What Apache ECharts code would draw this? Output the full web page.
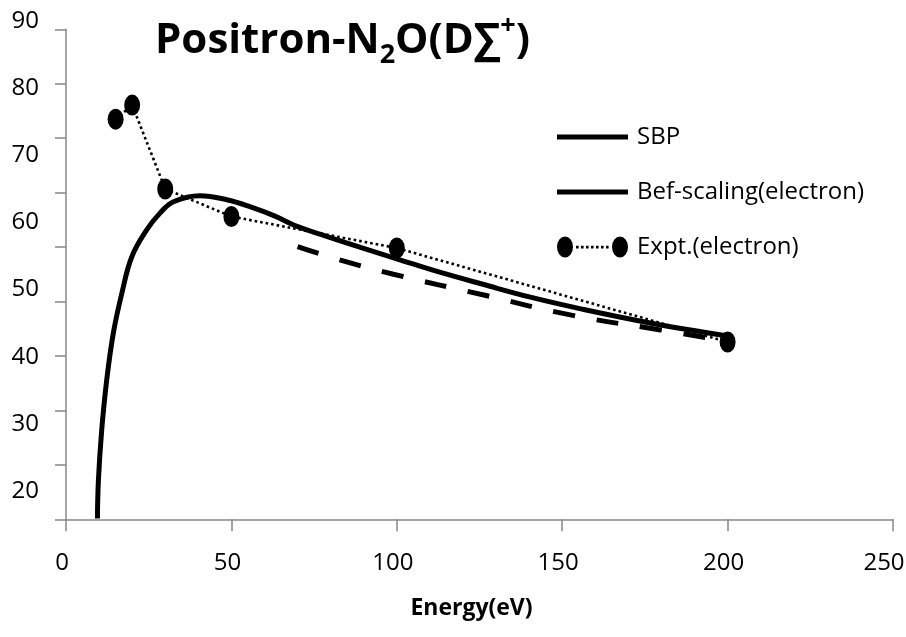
<html>
<head>
<meta charset="utf-8">
<script src="https://cdn.jsdelivr.net/npm/echarts@6/dist/echarts.min.js"></script>
<style>
  body { margin: 0; background: #fff; }
  #chart { width: 906px; height: 637px; }
</style>
</head>
<body>
<div id="chart"></div>
<script>
// values
var sbpE = [9.5, 9.8, 10.8, 12.3, 14.3, 16.9, 19.9, 24.4, 28.4, 32.5, 40.5, 48.6, 56, 63, 69, 79, 89, 100, 113, 126, 141, 156, 177, 200];
var sbpV = [15.9, 21.6, 29.1, 36.5, 43.5, 49.5, 54.9, 58.9, 61.4, 63.1, 64.0, 63.4, 62.3, 61.0, 59.6, 57.9, 56.3, 54.6, 52.6, 50.8, 48.8, 47.1, 45.0, 43.1];
var befE = [70, 83, 99, 126.3, 152.8, 179.7, 200];
var befV = [56.4, 54.4, 52.3, 49.2, 46.2, 44.0, 42.3];
var exptE = [15, 20, 30, 50, 100, 200];
var exptV = [75.4, 77.5, 65.0, 60.9, 56.2, 42.2];
var yLabels = [20, 30, 40, 50, 60, 70, 80, 90];
var xMax = 250;

function pairs(xs, ys) {
    var out = [];
    for (var i = 0; i < xs.length; i++) out.push([xs[i], ys[i]]);
    return out;
}

// legend icons: plain thick line, and two dots joined by a dotted line
var lineIcon = 'path://M0,0 h71 v5 h-71 Z';
var exptIcon = 'path://M0,10.5 A8,10.5 0 1 1 16,10.5 A8,10.5 0 1 1 0,10.5 Z ' +
    'M55,10.5 A8,10.5 0 1 1 71,10.5 A8,10.5 0 1 1 55,10.5 Z';
for (var d = 19; d < 53; d += 5) {
    exptIcon += ' M' + d + ',9.3 h2.6 v2.6 h-2.6 Z';
}

var font = '"Open Sans", sans-serif';
var axisGrey = '#888888';

var chart = echarts.init(document.getElementById('chart'));
var option = {
    animation: false,
    backgroundColor: '#fff',
    title: {
        left: 150, top: 8,
        text: '{a|Positron-N}{s|2}{a|O(D∑}{p|+}{a|)}',
        textStyle: {
            rich: {
                a: { fontFamily: font, fontWeight: 'bold', fontSize: 42, lineHeight: 56, color: '#000' },
                s: { fontFamily: font, fontWeight: 'bold', fontSize: 27, lineHeight: 30, verticalAlign: 'bottom', color: '#000' },
                p: { fontFamily: font, fontWeight: 'bold', fontSize: 27, lineHeight: 30, verticalAlign: 'top', color: '#000' }
            }
        }
    },
    legend: {
        orient: 'vertical',
        left: 552, top: 120,
        itemWidth: 71, itemHeight: 21,
        itemGap: 31,
        symbolKeepAspect: true,
        selectedMode: false,
        textStyle: { fontFamily: font, fontSize: 24, lineHeight: 24, color: '#000', padding: [0, 0, 0, 4] },
        data: [
            { name: 'SBP', icon: lineIcon },
            { name: 'Bef-scaling(electron)', icon: lineIcon },
            { name: 'Expt.(electron)', icon: exptIcon }
        ]
    },
    grid: [
        { left: 66, right: 13, top: 21.2, bottom: 117.7, outerBoundsMode: 'none', containLabel: false },
        { left: 66, right: 13, top: 29.3, bottom: 117.7, outerBoundsMode: 'none', containLabel: false }
    ],
    xAxis: [{
        gridIndex: 0,
        type: 'value', min: 0, max: xMax, interval: 50,
        name: 'Energy(eV)', nameLocation: 'middle', nameGap: 78,
        nameTextStyle: { fontFamily: font, fontWeight: 'bold', fontSize: 23, color: '#000', padding: [0, 16, 0, 0] },
        axisLine: { lineStyle: { color: axisGrey, width: 1.5 } },
        axisTick: { length: 12, lineStyle: { color: axisGrey, width: 1.5 } },
        axisLabel: {
            margin: 32, fontFamily: font, fontSize: 24, color: '#000', padding: [0, 8, 0, 0],
            formatter: function (v) { return v === xMax ? '{m|' + v + '}' : String(v); },
            rich: { m: { fontFamily: font, fontSize: 24, color: '#000', padding: [0, 10, 0, 0] } }
        },
        splitLine: { show: false }
    }, {
        gridIndex: 1, type: 'value', min: 0, max: xMax, show: false
    }],
    yAxis: [{
        gridIndex: 0,
        type: 'value', min: 15.78, max: 90,
        axisLine: { show: false },
        axisTick: { show: false },
        axisLabel: { margin: 27, fontFamily: font, fontSize: 24, color: '#000', customValues: yLabels },
        splitLine: { show: false }
    }, {
        gridIndex: 1,
        type: 'value', min: 0, max: 90, interval: 10,
        axisLine: { show: true, lineStyle: { color: axisGrey, width: 1.5 } },
        axisTick: { show: true, length: 11, lineStyle: { color: axisGrey, width: 1.5 } },
        axisLabel: { show: false },
        splitLine: { show: false }
    }],
    series: [{
        name: 'SBP',
        type: 'line',
        xAxisIndex: 0, yAxisIndex: 0,
        data: pairs(sbpE, sbpV),
        smooth: 0.4,
        symbol: 'none',
        lineStyle: { color: '#000', width: 5 },
        itemStyle: { color: '#000' }
    }, {
        name: 'Bef-scaling(electron)',
        type: 'line',
        xAxisIndex: 0, yAxisIndex: 0,
        data: pairs(befE, befV),
        smooth: true,
        symbol: 'none',
        lineStyle: { color: '#000', width: 5, type: [22, 22] },
        itemStyle: { color: '#000' }
    }, {
        name: 'Expt.(electron)',
        type: 'line',
        xAxisIndex: 0, yAxisIndex: 0,
        data: pairs(exptE, exptV),
        symbol: 'circle',
        symbolSize: [16, 21],
        lineStyle: { color: '#000', width: 2.6, type: [2.6, 3] },
        itemStyle: { color: '#000' },
        z: 3
    }]
};
chart.setOption(option);
</script>
</body>
</html>
